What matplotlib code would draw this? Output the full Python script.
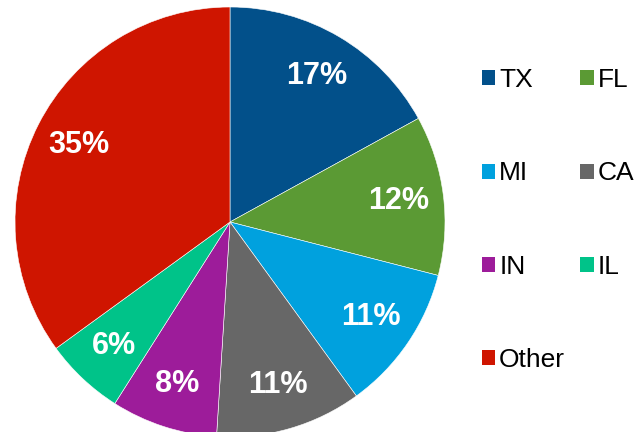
import matplotlib.pyplot as plt
from matplotlib.patches import Patch

plt.rcParams['font.family'] = ['Liberation Sans', 'DejaVu Sans']

states = ['TX', 'FL', 'MI', 'CA', 'IN', 'IL', 'Other']
shares = [17, 12, 11, 11, 8, 6, 35]
colors = ['#02508A', '#5B9A34', '#00A1DE', '#676767', '#9D1C9A', '#00C389', '#CF1500']

fig = plt.figure(figsize=(6.36, 4.32), dpi=100)
ax = fig.add_axes([15 / 636, -5 / 432, 430 / 636, 430 / 432])

wedges, texts, autotexts = ax.pie(
    shares, colors=colors, startangle=90, counterclock=False,
    autopct='%d%%', pctdistance=0.79, radius=1,
    wedgeprops=dict(edgecolor='white', linewidth=0.4))
for t in autotexts:
    t.set_color('white')
    t.set_fontsize(22)
    t.set_fontweight('bold')
ax.set_xlim(-1, 1)
ax.set_ylim(-1, 1)
ax.set_aspect('equal')

# legend fills column-wise, so reorder to read row by row
order = [0, 2, 4, 6, 1, 3, 5]
handles = [Patch(facecolor=colors[i], label=states[i]) for i in order]
fig.legend(handles=handles, ncol=2, loc='upper left',
           bbox_to_anchor=(482 / 636, 1 - 68 / 432), frameon=False,
           fontsize=19, handlelength=0.5, handleheight=0.5,
           handletextpad=0.15, columnspacing=0.58, labelspacing=2.63,
           borderpad=0, borderaxespad=0)

fig.savefig('out.png', dpi=100)
